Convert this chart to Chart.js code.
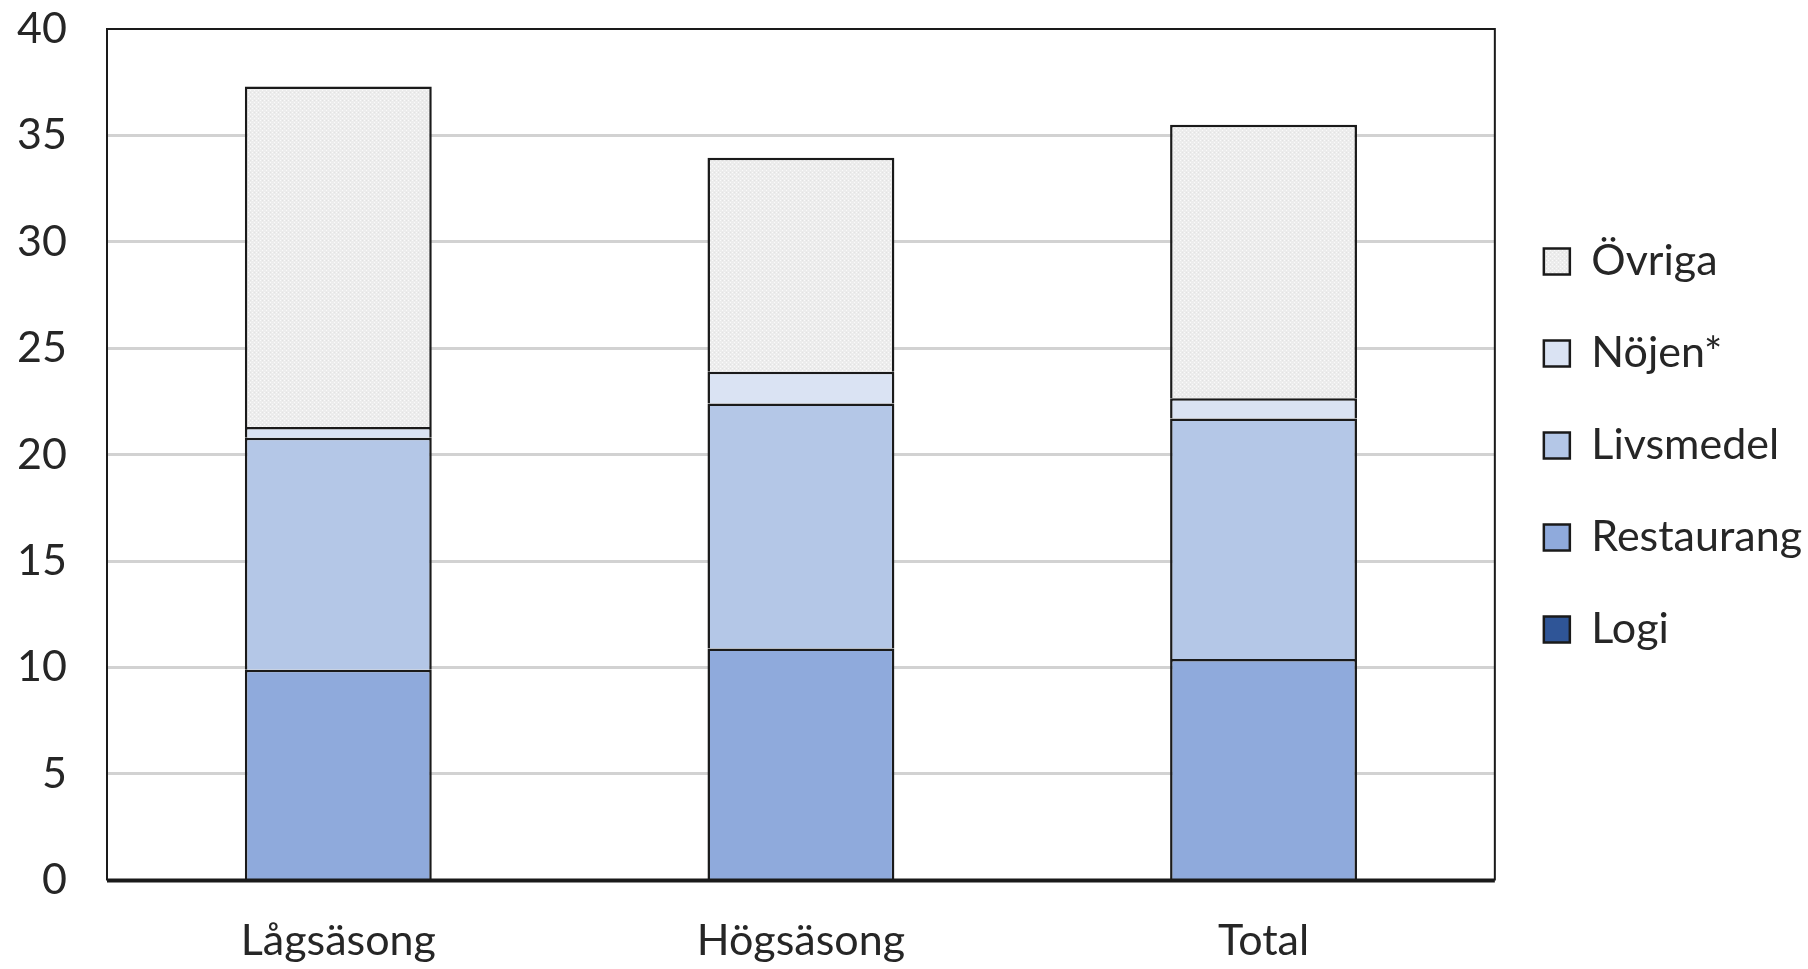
<!DOCTYPE html>
<html>
<head>
<meta charset="utf-8">
<script src="https://cdn.jsdelivr.net/npm/chart.js@4.4.0/dist/chart.umd.min.js"></script>
<style>
  html, body { margin: 0; padding: 0; background: #fff; }
  #wrap { width: 1808px; height: 969px; }
</style>
</head>
<body>
<div id="wrap"><canvas id="chart"></canvas></div>
<script>
// kategorier och värden
const kategorier = ['Lågsäsong', 'Högsäsong', 'Total'];
const logi = [0, 0, 0];
const restaurang = [9.9, 10.9, 10.4];
const livsmedel = [10.9, 11.5, 11.3];
const nojen = [0.5, 1.5, 0.95];
const ovriga = [16.0, 10.05, 12.85];
const yTicks = [0, 5, 10, 15, 20, 25, 30, 35, 40];

// ljust grått prickmönster för "Övriga"
function makePattern() {
    const c = document.createElement('canvas');
    c.width = 4; c.height = 4;
    const g = c.getContext('2d');
    g.fillStyle = '#ececec';
    g.fillRect(0, 0, 4, 4);
    g.fillStyle = '#fafafa';
    g.fillRect(0, 0, 1, 1);
    g.fillRect(2, 2, 1, 1);
    g.fillStyle = '#e2e2e2';
    g.fillRect(2, 0, 1, 1);
    return g.createPattern(c, 'repeat');
}

const font = "Lato, 'Open Sans', sans-serif";
const fontSize = 43;
const textColor = '#262626';

// ram runt ritytan
const ramPlugin = {
    id: 'ram',
    afterDatasetsDraw(chart) {
        const a = chart.chartArea;
        const ctx = chart.ctx;
        ctx.save();
        ctx.strokeStyle = '#1a1a1a';
        ctx.lineWidth = 2;
        ctx.beginPath();
        ctx.moveTo(a.left, a.bottom);
        ctx.lineTo(a.left, a.top);
        ctx.lineTo(a.right, a.top);
        ctx.lineTo(a.right, a.bottom);
        ctx.stroke();
        ctx.lineWidth = 4;
        ctx.beginPath();
        ctx.moveTo(a.left, a.bottom);
        ctx.lineTo(a.right, a.bottom);
        ctx.stroke();
        ctx.restore();
    }
};

function serie(label, data, color) {
    return {
        label: label,
        data: data,
        backgroundColor: color,
        borderColor: '#1a1a1a',
        borderWidth: 2.5,
        barPercentage: 0.404,
        categoryPercentage: 1.0
    };
}

const ctx = document.getElementById('chart').getContext('2d');
new Chart(ctx, {
    type: 'bar',
    data: {
        labels: kategorier,
        datasets: [
            serie('Logi', logi, '#2f5597'),
            serie('Restaurang', restaurang, '#8faadc'),
            serie('Livsmedel', livsmedel, '#b4c7e7'),
            serie('Nöjen*', nojen, '#dae3f3'),
            serie('Övriga', ovriga, makePattern())
        ]
    },
    options: {
        responsive: true,
        maintainAspectRatio: false,
        animation: false,
        layout: { padding: { left: 10, top: 29, right: -4, bottom: -33 } },
        scales: {
            x: {
                stacked: true,
                grid: { display: false, drawTicks: false },
                border: { display: false },
                ticks: { color: textColor, font: { family: font, size: fontSize }, padding: 35 }
            },
            y: {
                stacked: true,
                min: 0,
                max: 40,
                afterBuildTicks(scale) {
                    scale.ticks = yTicks.map(v => ({ value: v }));
                },
                afterFit(scale) {
                    scale.width = 97;
                    scale.paddingTop = 0;
                    scale.paddingBottom = 0;
                },
                grid: {
                    color: (c) => (c.tick.value === 0 || c.tick.value === 40) ? 'rgba(0,0,0,0)' : '#d2d2d2',
                    lineWidth: 3,
                    drawTicks: false
                },
                border: { display: false },
                ticks: { color: textColor, font: { family: font, size: fontSize }, padding: 40 }
            }
        },
        plugins: {
            legend: {
                position: 'right',
                reverse: true,
                align: 'start',
                title: { display: true, text: ' ', font: { size: 10 }, padding: { top: 150, bottom: 0 } },
                labels: {
                    color: textColor,
                    font: { family: font, size: fontSize },
                    boxWidth: 26,
                    boxHeight: 26,
                    padding: 49
                }
            },
            tooltip: { enabled: false }
        }
    },
    plugins: [ramPlugin]
});
</script>
</body>
</html>
